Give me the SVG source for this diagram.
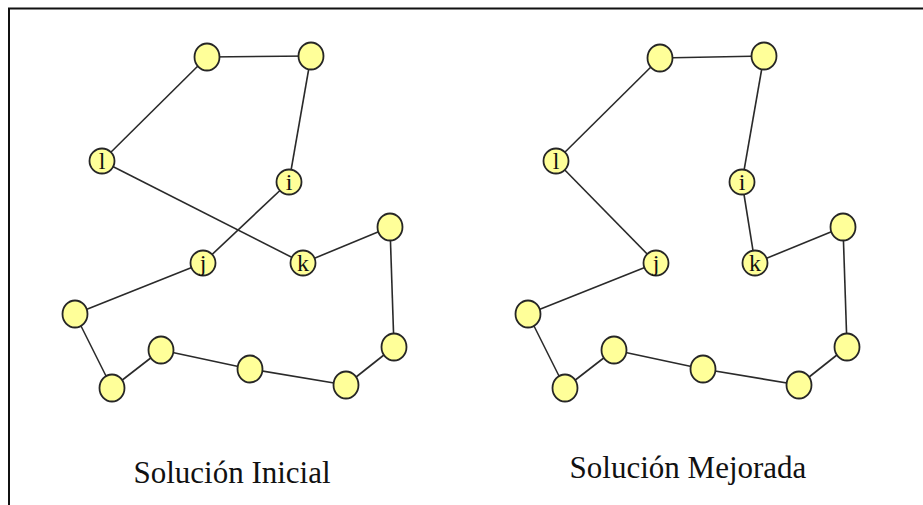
<svg xmlns="http://www.w3.org/2000/svg" width="923" height="505" viewBox="0 0 923 505">
<style>
.edge{stroke:#2a2a2a;stroke-width:1.6;fill:none}
.node{fill:#ffff99;stroke:#262626;stroke-width:1.8}
.lbl{font-family:"Liberation Serif","Times New Roman",serif;font-size:24px;fill:#111;text-anchor:middle}
.title{font-family:"Liberation Serif","Times New Roman",serif;font-size:31px;fill:#111;text-anchor:middle}
.frame{stroke:#111;stroke-width:2;fill:none}
</style>
<rect width="923" height="505" fill="#ffffff"/>
<path class="frame" d="M9,505 V8.5 H923"/>
<g id="connectors">
  <g id="left-edges">
    <line class="edge" x1="207" y1="57" x2="311" y2="56"/>
    <line class="edge" x1="311" y1="56" x2="289" y2="182"/>
    <line class="edge" x1="207" y1="57" x2="102" y2="161"/>
    <line class="edge" x1="102" y1="161" x2="303" y2="263"/>
    <line class="edge" x1="289" y1="182" x2="203" y2="263"/>
    <line class="edge" x1="203" y1="263" x2="75" y2="314"/>
    <line class="edge" x1="75" y1="314" x2="112" y2="388"/>
    <line class="edge" x1="112" y1="388" x2="161" y2="350"/>
    <line class="edge" x1="161" y1="350" x2="250" y2="369"/>
    <line class="edge" x1="250" y1="369" x2="346" y2="385"/>
    <line class="edge" x1="346" y1="385" x2="394" y2="347"/>
    <line class="edge" x1="394" y1="347" x2="390" y2="227"/>
    <line class="edge" x1="390" y1="227" x2="303" y2="263"/>
  </g>
  <g id="right-edges">
    <line class="edge" x1="660" y1="58" x2="764" y2="56"/>
    <line class="edge" x1="764" y1="56" x2="742" y2="182"/>
    <line class="edge" x1="660" y1="58" x2="556" y2="161"/>
    <line class="edge" x1="556" y1="161" x2="656" y2="263"/>
    <line class="edge" x1="742" y1="182" x2="755" y2="263"/>
    <line class="edge" x1="656" y1="263" x2="528" y2="314"/>
    <line class="edge" x1="528" y1="314" x2="565" y2="388"/>
    <line class="edge" x1="565" y1="388" x2="614" y2="350"/>
    <line class="edge" x1="614" y1="350" x2="703" y2="369"/>
    <line class="edge" x1="703" y1="369" x2="799" y2="385"/>
    <line class="edge" x1="799" y1="385" x2="847" y2="347"/>
    <line class="edge" x1="847" y1="347" x2="843" y2="227"/>
    <line class="edge" x1="843" y1="227" x2="755" y2="263"/>
  </g>
</g>
<g id="L-a"><ellipse class="node" cx="207" cy="57" rx="12.5" ry="13.5"/></g>
<g id="L-b"><ellipse class="node" cx="311" cy="56" rx="12.5" ry="13.5"/></g>
<g id="L-l"><circle class="node" cx="102" cy="161" r="12.5"/><text class="lbl" x="102" y="169">l</text></g>
<g id="L-i"><circle class="node" cx="289" cy="182" r="12.5"/><text class="lbl" x="289" y="190">i</text></g>
<g id="L-j"><circle class="node" cx="203" cy="263" r="12.5"/><text class="lbl" x="203" y="271">j</text></g>
<g id="L-k"><circle class="node" cx="303" cy="263" r="12.5"/><text class="lbl" x="303" y="271">k</text></g>
<g id="L-c"><ellipse class="node" cx="390" cy="227" rx="12.5" ry="13.5"/></g>
<g id="L-d"><ellipse class="node" cx="75" cy="314" rx="12.5" ry="13.5"/></g>
<g id="L-e"><ellipse class="node" cx="161" cy="350" rx="12.5" ry="13.5"/></g>
<g id="L-f"><ellipse class="node" cx="250" cy="369" rx="12.5" ry="13.5"/></g>
<g id="L-g"><ellipse class="node" cx="112" cy="388" rx="12.5" ry="13.5"/></g>
<g id="L-h"><ellipse class="node" cx="346" cy="385" rx="12.5" ry="13.5"/></g>
<g id="L-m"><ellipse class="node" cx="394" cy="347" rx="12.5" ry="13.5"/></g>

<g id="R-a"><ellipse class="node" cx="660" cy="58" rx="12.5" ry="13.5"/></g>
<g id="R-b"><ellipse class="node" cx="764" cy="56" rx="12.5" ry="13.5"/></g>
<g id="R-l"><circle class="node" cx="556" cy="161" r="12.5"/><text class="lbl" x="556" y="169">l</text></g>
<g id="R-i"><circle class="node" cx="742" cy="182" r="12.5"/><text class="lbl" x="742" y="190">i</text></g>
<g id="R-j"><circle class="node" cx="656" cy="263" r="12.5"/><text class="lbl" x="656" y="271">j</text></g>
<g id="R-k"><circle class="node" cx="755" cy="263" r="12.5"/><text class="lbl" x="755" y="271">k</text></g>
<g id="R-c"><ellipse class="node" cx="843" cy="227" rx="12.5" ry="13.5"/></g>
<g id="R-d"><ellipse class="node" cx="528" cy="314" rx="12.5" ry="13.5"/></g>
<g id="R-e"><ellipse class="node" cx="614" cy="350" rx="12.5" ry="13.5"/></g>
<g id="R-f"><ellipse class="node" cx="703" cy="369" rx="12.5" ry="13.5"/></g>
<g id="R-g"><ellipse class="node" cx="565" cy="388" rx="12.5" ry="13.5"/></g>
<g id="R-h"><ellipse class="node" cx="799" cy="385" rx="12.5" ry="13.5"/></g>
<g id="R-m"><ellipse class="node" cx="847" cy="347" rx="12.5" ry="13.5"/></g>

<text class="title" x="232" y="483">Solución Inicial</text>
<text class="title" x="688" y="478">Solución Mejorada</text>
</svg>
